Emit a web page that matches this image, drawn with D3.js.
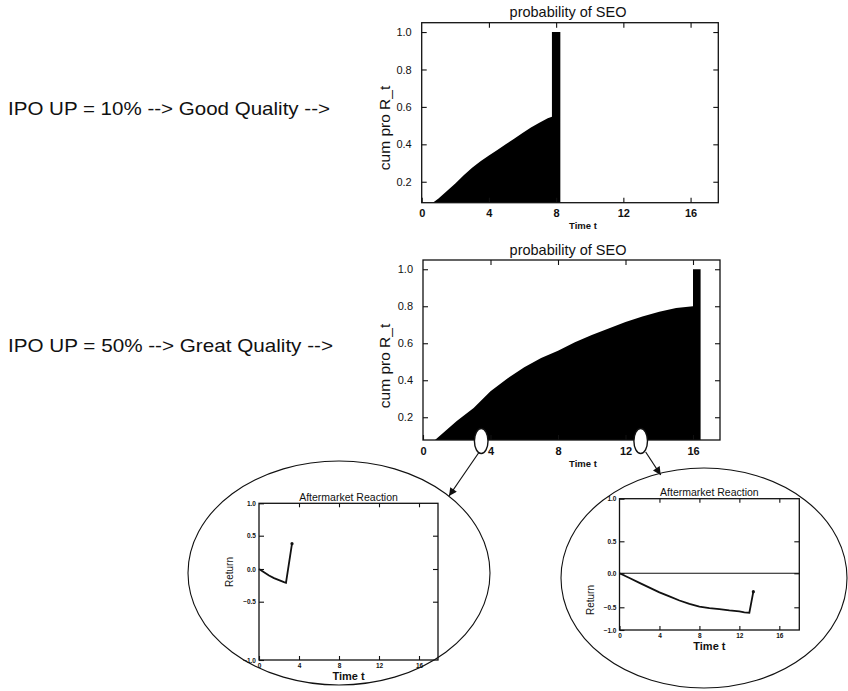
<!DOCTYPE html>
<html>
<head>
<meta charset="utf-8">
<script src="https://cdn.jsdelivr.net/npm/d3@7"></script>
<style>
  body { margin: 0; background: #fff; }
  svg { display: block; font-family: "Liberation Sans", Arial, sans-serif; }
  .tick line { stroke: #111; stroke-width: 1.1; }
  .tick text { fill: #111; }
</style>
</head>
<body>
<svg id="chart" width="848" height="691"></svg>
<script>
// cumulative probability of SEO, good quality IPO (includes the jump to 1.0)
const seoTimeGood = [0.66, 1, 1.5, 2, 2.5, 3, 3.5, 4, 4.5, 5, 5.5, 6, 6.5, 7, 7.5, 7.75, 7.75, 8.25];
const seoProbGood = [0.088, 0.11, 0.15, 0.19, 0.235, 0.275, 0.31, 0.34, 0.37, 0.40, 0.43, 0.46, 0.49, 0.515, 0.54, 0.548, 1.0, 1.0];

// cumulative probability of SEO, great quality IPO
const seoTimeGreat = [0.71, 1, 2, 3, 4, 5, 6, 7, 8, 9, 10, 11, 12, 13, 14, 15, 16, 16, 16.45];
const seoProbGreat = [0.077, 0.1, 0.18, 0.25, 0.34, 0.41, 0.47, 0.52, 0.56, 0.605, 0.645, 0.68, 0.715, 0.745, 0.77, 0.79, 0.80, 1.0, 1.0];

// aftermarket reaction (return) for the two call-outs
const reactTimeEarly = [0, 0.5, 1, 1.5, 2, 2.5, 2.7, 3.3];
const reactRetEarly = [0, -0.05, -0.1, -0.14, -0.17, -0.2, -0.21, 0.38];
const reactTimeLate = [0, 1, 2, 3, 4, 5, 6, 7, 8, 9, 10, 11, 12, 12.5, 13, 13.4];
const reactRetLate = [0, -0.07, -0.14, -0.21, -0.28, -0.34, -0.40, -0.45, -0.49, -0.52, -0.54, -0.57, -0.59, -0.61, -0.62, -0.27];

const timeTicks = [0, 4, 8, 12, 16];
const probTicks = [0.2, 0.4, 0.6, 0.8, 1.0];
const retTicks = [-1.0, -0.5, 0.0, 0.5, 1.0];
const calloutTimes = [3.45, 12.9];

const svg = d3.select('#chart');

function frame(g, l, t, r, b) {
    g.append('rect')
        .attr('x', l).attr('y', t)
        .attr('width', r - l).attr('height', b - t)
        .attr('fill', 'none')
        .attr('stroke', '#111')
        .attr('stroke-width', 1.3);
}

function seoPlot(box, times, probs, yMin, xMax) {
    const g = svg.append('g');
    const x = d3.scaleLinear().domain([0, xMax]).range([box.l, box.r]);
    const y = d3.scaleLinear().domain([yMin, 1.05]).range([box.b, box.t]);
    const pts = times.map((t, i) => [t, probs[i]]);

    g.append('path')
        .datum(pts)
        .attr('fill', '#000')
        .attr('d', d3.area().x(d => x(d[0])).y0(y(yMin)).y1(d => y(d[1])));

    const ax = g.append('g').attr('transform', `translate(0,${box.b})`)
        .call(d3.axisBottom(x).tickValues(timeTicks).tickSize(-5).tickPadding(7).tickFormat(d3.format('d')));
    ax.selectAll('text').attr('font-size', 11).attr('font-weight', 'bold');
    g.append('g').attr('transform', `translate(0,${box.t})`)
        .call(d3.axisTop(x).tickValues(timeTicks.slice(1)).tickSize(-5).tickFormat(''));
    const ay = g.append('g').attr('transform', `translate(${box.l},0)`)
        .call(d3.axisLeft(y).tickValues(probTicks).tickSize(-5).tickPadding(10).tickFormat(d3.format('.1f')));
    ay.selectAll('text').attr('font-size', 11);
    g.append('g').attr('transform', `translate(${box.r},0)`)
        .call(d3.axisRight(y).tickValues(probTicks).tickSize(-5).tickFormat(''));
    g.selectAll('.domain').remove();
    frame(g, box.l, box.t, box.r, box.b);

    g.append('text')
        .attr('x', 568).attr('y', box.t - 5.5)
        .attr('text-anchor', 'middle')
        .attr('font-size', 14.5)
        .attr('fill', '#111')
        .text('probability of SEO');
    g.append('text')
        .attr('transform', `translate(390,${box.labelY}) rotate(-90)`)
        .attr('text-anchor', 'middle')
        .attr('font-size', 15.5)
        .attr('fill', '#111')
        .text('cum pro R_t');
    g.append('text')
        .attr('x', 583).attr('y', box.b + 26.5)
        .attr('text-anchor', 'middle')
        .attr('font-size', 9.5)
        .attr('font-weight', 'bold')
        .attr('fill', '#111')
        .text('Time t');
    return { x, y };
}

function reactionPlot(box, times, rets, zeroLine) {
    const g = svg.append('g');
    const x = d3.scaleLinear().domain([0, box.xMax]).range([box.l, box.r]);
    // the scanned axis is not evenly spaced, so a piecewise linear scale is used
    const y = d3.scaleLinear().domain(retTicks).range(box.yStops);

    if (zeroLine) {
        g.append('line')
            .attr('x1', box.l).attr('x2', box.r)
            .attr('y1', y(0)).attr('y2', y(0))
            .attr('stroke', '#111').attr('stroke-width', 1.1);
    }

    const ax = g.append('g').attr('transform', `translate(0,${box.b})`)
        .call(d3.axisBottom(x).tickValues(timeTicks).tickSize(-4).tickPadding(3).tickFormat(d3.format('d')));
    ax.selectAll('text').attr('font-size', 6.5).attr('font-weight', 'bold');
    g.append('g').attr('transform', `translate(0,${box.t})`)
        .call(d3.axisTop(x).tickValues(timeTicks.slice(1)).tickSize(-4).tickFormat(''));
    const ay = g.append('g').attr('transform', `translate(${box.l},0)`)
        .call(d3.axisLeft(y).tickValues(retTicks).tickSize(-5).tickPadding(3).tickFormat(d3.format('.1f')));
    ay.selectAll('text').attr('font-size', 6.5).attr('font-weight', 'bold');
    g.append('g').attr('transform', `translate(${box.r},0)`)
        .call(d3.axisRight(y).tickValues(retTicks.slice(1, 4)).tickSize(-5).tickFormat(''));
    g.selectAll('.domain').remove();
    frame(g, box.l, box.t, box.r, box.b);

    const pts = times.map((t, i) => [x(t), y(rets[i])]);
    g.append('path')
        .attr('d', d3.line()(pts))
        .attr('fill', 'none')
        .attr('stroke', '#111')
        .attr('stroke-width', 1.8);
    g.append('circle')
        .attr('cx', pts[pts.length - 1][0]).attr('cy', pts[pts.length - 1][1])
        .attr('r', 1.6).attr('fill', '#111');

    g.append('text')
        .attr('x', (box.l + box.r) / 2).attr('y', box.t - 2.5)
        .attr('text-anchor', 'middle')
        .attr('font-size', 10.5)
        .attr('fill', '#111')
        .text('Aftermarket Reaction');
    g.append('text')
        .attr('transform', `translate(${box.l - 26},${box.labelY}) rotate(-90)`)
        .attr('text-anchor', 'middle')
        .attr('font-size', 10)
        .attr('fill', '#111')
        .text('Return');
    g.append('text')
        .attr('x', (box.l + box.r) / 2).attr('y', box.b + 20)
        .attr('text-anchor', 'middle')
        .attr('font-size', 11)
        .attr('font-weight', 'bold')
        .attr('fill', '#111')
        .text('Time  t');
}

// left-hand captions
svg.append('text')
    .attr('x', 8).attr('y', 115)
    .attr('font-size', 19)
    .attr('textLength', 322).attr('lengthAdjust', 'spacingAndGlyphs')
    .attr('fill', '#111')
    .text('IPO UP = 10% --> Good Quality -->');
svg.append('text')
    .attr('x', 8).attr('y', 352)
    .attr('font-size', 19)
    .attr('textLength', 325).attr('lengthAdjust', 'spacingAndGlyphs')
    .attr('fill', '#111')
    .text('IPO UP = 50% --> Great Quality -->');

seoPlot({ l: 421.7, r: 718.3, t: 22.7, b: 202.7, labelY: 128 }, seoTimeGood, seoProbGood, 0.088, 17.65);
const mid = seoPlot({ l: 423, r: 720, t: 260, b: 440, labelY: 366 }, seoTimeGreat, seoProbGreat, 0.077, 17.6);

// big call-out ellipses
svg.append('ellipse').attr('cx', 339).attr('cy', 573).attr('rx', 151).attr('ry', 112)
    .attr('fill', 'none').attr('stroke', '#111').attr('stroke-width', 1.1);
svg.append('ellipse').attr('cx', 704).attr('cy', 578).attr('rx', 143).attr('ry', 110)
    .attr('fill', 'none').attr('stroke', '#111').attr('stroke-width', 1.1);

reactionPlot({ l: 259, r: 438, t: 503.3, b: 660, xMax: 17.9, yStops: [660, 601.7, 569, 535.7, 503.3], labelY: 572 },
    reactTimeEarly, reactRetEarly, false);
reactionPlot({ l: 619.5, r: 799.3, t: 498.7, b: 630, xMax: 18, yStops: [630, 607.3, 573.3, 541.3, 498.7], labelY: 600 },
    reactTimeLate, reactRetLate, true);

// small markers on the time axis and arrows to the call-outs
svg.append('defs').append('marker')
    .attr('id', 'head')
    .attr('viewBox', '0 0 10 10')
    .attr('refX', 10).attr('refY', 5)
    .attr('markerWidth', 11).attr('markerHeight', 8)
    .attr('markerUnits', 'userSpaceOnUse')
    .attr('orient', 'auto')
    .append('path').attr('d', 'M0,0L10,5L0,10Z').attr('fill', '#111');

const arrowEnds = [[449, 496], [660.7, 475]];
calloutTimes.forEach((t, i) => {
    const cx = mid.x(t), cy = 441;
    svg.append('ellipse')
        .attr('cx', cx).attr('cy', cy).attr('rx', 6.8).attr('ry', 12.5)
        .attr('fill', '#fff').attr('stroke', '#111').attr('stroke-width', 1.4);
    svg.append('line')
        .attr('x1', cx + (i === 0 ? -2 : 5)).attr('y1', cy + 11)
        .attr('x2', arrowEnds[i][0]).attr('y2', arrowEnds[i][1])
        .attr('stroke', '#111').attr('stroke-width', 1.2)
        .attr('marker-end', 'url(#head)');
});
</script>
</body>
</html>
